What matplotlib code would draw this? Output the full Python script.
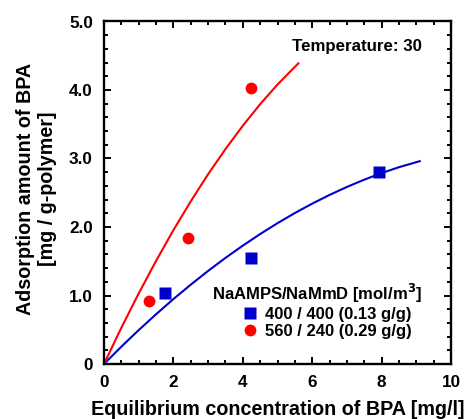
import matplotlib
matplotlib.use("Agg")
import matplotlib.pyplot as plt
from matplotlib.ticker import MultipleLocator, FixedLocator, FixedFormatter

plt.rcParams['font.family'] = ['Liberation Sans', 'DejaVu Sans']
plt.rcParams['font.weight'] = 'bold'
plt.rcParams['mathtext.default'] = 'bf'

# measured points
blue_x = [1.76, 4.23, 7.93]
blue_y = [1.04, 1.55, 2.81]
red_x = [1.30, 2.43, 4.23]
red_y = [0.92, 1.84, 4.03]

# fitted curves
blue_cx = [0, 0.5, 1.0, 1.5, 2.0, 2.5, 3.0, 3.5, 4.0, 4.5, 5.0, 5.5, 6.0, 6.5, 7.0, 7.5, 8.0, 8.5, 9.1]
blue_cy = [0, 0.253, 0.495, 0.726, 0.948, 1.158, 1.359, 1.549, 1.728, 1.897, 2.056, 2.204, 2.341, 2.468, 2.585, 2.691, 2.787, 2.873, 2.961]
red_cx = [0, 0.5, 1.0, 1.5, 2.0, 2.5, 3.0, 3.5, 4.0, 4.5, 5.0, 5.6]
red_cy = [0, 0.529, 1.030, 1.505, 1.954, 2.375, 2.770, 3.137, 3.478, 3.793, 4.080, 4.389]

x_ticks = [0, 2, 4, 6, 8, 10]
x_labels = ['0', '2', '4', '6', '8', '10']
y_ticks = [0, 1, 2, 3, 4, 5]
y_labels = ['0', '1.0', '2.0', '3.0', '4.0', '5.0']

blue = '#0000CC'
red = '#FF0000'

W, H = 470, 419
L, R, T, B = 104, 451, 21.5, 364
fig = plt.figure(figsize=(W / 100, H / 100), dpi=100)
ax = fig.add_axes([L / W, (H - B) / H, (R - L) / W, (B - T) / H])

def fx(px):
    return (px - L) / (R - L)

def fy(py):
    return (B - py) / (B - T)

ax.plot(blue_cx, blue_cy, color=blue, lw=1.5)
ax.plot(red_cx, red_cy, color=red, lw=1.5)
hb, = ax.plot(blue_x, blue_y, 's', color=blue, ms=8.3, mec='none',
              label='400 / 400 (0.13 g/g)')
hr, = ax.plot(red_x, red_y, 'o', color=red, ms=8.5, mec='none',
              label='560 / 240 (0.29 g/g)')

ax.set_xlim(0, 10)
ax.set_ylim(0, 5)
ax.xaxis.set_major_locator(FixedLocator(x_ticks))
ax.xaxis.set_major_formatter(FixedFormatter(x_labels))
ax.yaxis.set_major_locator(FixedLocator(y_ticks))
ax.yaxis.set_major_formatter(FixedFormatter(y_labels))
ax.xaxis.set_minor_locator(MultipleLocator(0.5))
ax.yaxis.set_minor_locator(MultipleLocator(0.2))
ax.tick_params(which='both', direction='in', top=True, right=True, width=1.4)
ax.tick_params(which='major', length=5, labelsize=12.3)
ax.tick_params(axis='x', which='major', pad=8)
ax.tick_params(axis='y', which='major', pad=8)
ax.tick_params(which='minor', length=3)
for lab in ax.get_xticklabels() + ax.get_yticklabels():
    lab.set_fontweight('bold')
for s in ax.spines.values():
    s.set_linewidth(1.7)

ax.set_xlabel('Equilibrium concentration of BPA [mg/l]', fontsize=14.2, fontweight='bold')
ax.xaxis.label.set_va('baseline')
ax.xaxis.set_label_coords(0.5, fy(415))

ax.set_ylabel('Adsorption amount of BPA\n[mg / g-polymer]', fontsize=14.2, fontweight='bold',
              linespacing=1.15)
ax.yaxis.label.set_va('center')
ax.yaxis.set_label_coords(fx(36.5), fy(189))

ax.text(fx(422), fy(47), 'Temperature: 30', transform=ax.transAxes, ha='right', va='center',
        fontsize=12.2, fontweight='bold')

ax.text(fx(211.5), fy(293), 'NaAMPS/NaMmD [mol/m$^3$]', transform=ax.transAxes,
        ha='left', va='center', fontsize=12, fontweight='bold')

leg = ax.legend(handles=[hb, hr], loc='upper left',
                bbox_to_anchor=(fx(243.5), fy(306.5)), frameon=False, fontsize=12,
                handlelength=0.8, handletextpad=0.5, labelspacing=0.15,
                borderpad=0, borderaxespad=0)
for t in leg.get_texts():
    t.set_fontweight('bold')

fig.savefig('out.png', dpi=100)
